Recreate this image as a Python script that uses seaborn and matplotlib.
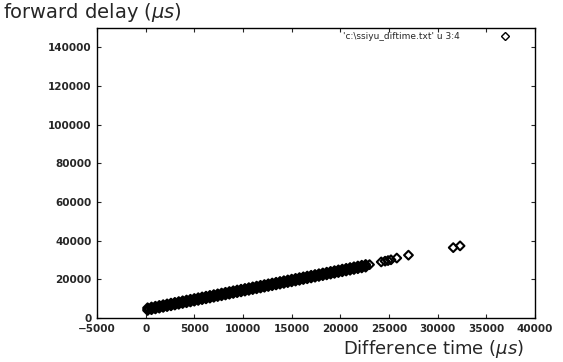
import matplotlib
matplotlib.use("Agg")
import matplotlib.pyplot as plt
import seaborn as sns
import pandas as pd

# --- data ---
band_x = [200, 600, 1000, 1400, 1800, 2200, 2600, 3000, 3400, 3800, 4200, 4600, 5000,
          5400, 5800, 6200, 6600, 7000, 7400, 7800, 8200, 8600, 9000, 9400, 9800, 10200,
          10600, 11000, 11400, 11800, 12200, 12600, 13000, 13400, 13800, 14200, 14600,
          15000, 15400, 15800, 16200, 16600, 17000, 17400, 17800, 18200, 18600, 19000,
          19400, 19800, 20200, 20600, 21000, 21400, 21800, 22200, 22600]
band_low = [3900, 4300, 4700, 5100, 5500, 5900, 6300, 6700, 7100, 7500, 7900, 8300, 8700,
            9100, 9500, 9900, 10300, 10700, 11100, 11500, 11900, 12300, 12700, 13100, 13500,
            13900, 14300, 14700, 15100, 15500, 15900, 16300, 16700, 17100, 17500, 17900,
            18300, 18700, 19100, 19500, 19900, 20300, 20700, 21100, 21500, 21900, 22300,
            22700, 23100, 23500, 23900, 24300, 24700, 25100, 25500, 25900, 26300]
band_mid = [4600, 5000, 5400, 5800, 6200, 6600, 7000, 7400, 7800, 8200, 8600, 9000, 9400,
            9800, 10200, 10600, 11000, 11400, 11800, 12200, 12600, 13000, 13400, 13800,
            14200, 14600, 15000, 15400, 15800, 16200, 16600, 17000, 17400, 17800, 18200,
            18600, 19000, 19400, 19800, 20200, 20600, 21000, 21400, 21800, 22200, 22600,
            23000, 23400, 23800, 24200, 24600, 25000, 25400, 25800, 26200, 26600, 27000]
band_high = [5300, 5700, 6100, 6500, 6900, 7300, 7700, 8100, 8500, 8900, 9300, 9700, 10100,
             10500, 10900, 11300, 11700, 12100, 12500, 12900, 13300, 13700, 14100, 14500,
             14900, 15300, 15700, 16100, 16500, 16900, 17300, 17700, 18100, 18500, 18900,
             19300, 19700, 20100, 20500, 20900, 21300, 21700, 22100, 22500, 22900, 23300,
             23700, 24100, 24500, 24900, 25300, 25700, 26100, 26500, 26900, 27300, 27700]
sparse_x = [23000, 24200, 24600, 24900, 25200, 25800, 27000, 31600, 32300]
sparse_y = [27600, 29000, 29400, 29700, 30100, 31000, 32500, 36400, 37300]

x_ticks = [-5000, 0, 5000, 10000, 15000, 20000, 25000, 30000, 35000, 40000]
y_ticks = [0, 20000, 40000, 60000, 80000, 100000, 120000, 140000]
series_label = "'c:\\ssiyu_diftime.txt' u 3:4"

xs = band_x * 3 + sparse_x
ys = band_low + band_mid + band_high + sparse_y
df = pd.DataFrame({"x": xs, "y": ys, "s": [series_label] * len(xs)})

sns.set_style("ticks")
plt.rcParams['font.family'] = ['DejaVu Sans']

fig = plt.figure(figsize=(5.63, 3.62), dpi=100)
ax = fig.add_axes([97 / 563, 44 / 362, (535 - 97) / 563, (318 - 28) / 362])

sns.scatterplot(data=df, x="x", y="y", hue="s", palette=["black"], marker="D",
                s=20, linewidth=1.5, ax=ax)
for coll in ax.collections:
    coll.set_facecolor("none")
    coll.set_edgecolor("black")

ax.set_xlim(-5000, 40000)
ax.set_ylim(0, 150000)
ax.set_xticks(x_ticks)
ax.set_yticks(y_ticks)
ax.tick_params(direction="in", length=3, width=0.8, labelsize=7.5, top=True, right=True,
               pad=4)
for lab in ax.get_xticklabels() + ax.get_yticklabels():
    lab.set_fontweight("bold")
for sp in ax.spines.values():
    sp.set_linewidth(1.0)
    sp.set_color("black")
ax.set_xlabel("")
ax.set_ylabel("")

leg = ax.legend(loc="upper right", frameon=False, markerfirst=False, fontsize=6.5,
                handletextpad=3.5, borderaxespad=0.2, handlelength=3.0,
                bbox_to_anchor=(0.975, 1.005))
for h in leg.legend_handles:
    h.set_markerfacecolor("none")
    h.set_markeredgecolor("black")
    h.set_markeredgewidth(1.0)

fig.text(3 / 563, 1 - 12 / 362, r"forward delay ($\mathit{\mu s}$)", fontsize=14,
         ha="left", va="center")
fig.text(524 / 563, 1 - 349 / 362, r"Difference time ($\mathit{\mu s}$)", fontsize=13,
         ha="right", va="center")

fig.savefig("out.png", dpi=100)
